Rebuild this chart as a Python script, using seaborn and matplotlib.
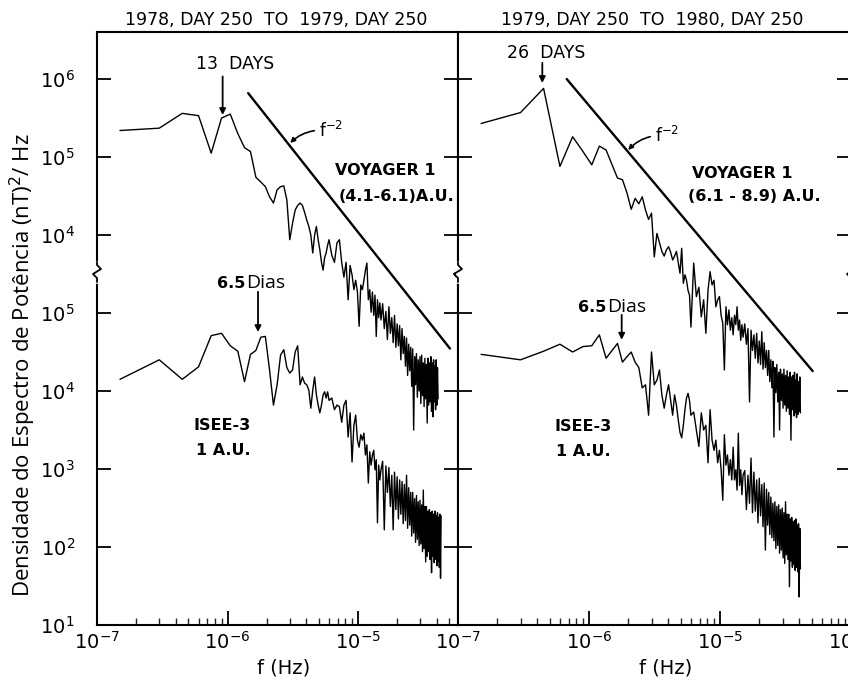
import numpy as np
import pandas as pd
import matplotlib
matplotlib.use("Agg")
import matplotlib.pyplot as plt
import seaborn as sns
from matplotlib.ticker import LogLocator, NullLocator, NullFormatter

# ---------------- data ----------------
# spectral frequency grid, in units of 1e-7 Hz
freq_e7 = [1.5, 3.0, 4.5, 6.0, 7.5, 9.0, 10.5, 12.0, 13.5, 15.0, 16.5, 18.0, 19.5, 21.0, 22.5, 24.0, 25.5, 27.0, 28.5, 30.0,
           31.5, 33.0, 34.5, 36.0, 37.5, 39.0, 40.5, 42.0, 43.5, 45.0, 46.5, 48.0, 49.5, 51.0, 52.5, 54.0, 55.5, 57.0, 58.5, 60.0,
           63, 66, 69, 72, 75, 78, 81, 84, 87, 90, 93, 96, 99, 102, 105, 108, 111, 114, 117, 120,
           123, 126, 129, 132, 135, 138, 141, 144, 147, 150,
           154.5, 159, 163.5, 168, 172.5, 177, 181.5, 186, 190.5, 195, 199.5, 204, 208.5, 213, 217.5, 222,
           226.5, 231, 235.5, 240, 244.5, 249, 253.5, 258, 262.5, 267, 271.5, 276, 280.5, 285, 289.5, 294,
           298.5, 303, 307.5, 312, 316.5, 321, 325.5, 330, 334.5, 339, 343.5, 348, 352.5, 357, 361.5, 366,
           370.5, 375, 379.5, 384, 388.5, 393, 397.5, 402, 406.5, 411, 415.5, 420, 424.5, 429, 433.5]

# log10 of power spectral density, (nT)^2/Hz
voyager_1978_log10 = [5.34, 5.37, 5.56, 5.53, 5.05, 5.50, 5.55, 5.30, 5.12, 5.07, 4.74, 4.68, 4.62, 4.49, 4.41, 4.58, 4.62, 4.63, 4.45, 3.94,
                      4.15, 4.32, 4.38, 4.41, 4.38, 4.29, 4.19, 4.11, 4.00, 3.77, 4.00, 4.11, 3.94, 3.81, 3.65, 3.55, 3.71, 3.77, 3.87, 3.94,
                      3.74, 3.65, 3.90, 3.94, 3.65, 3.46, 3.65, 3.17, 3.61, 3.49, 3.30, 3.42, 3.27, 2.83, 3.36, 3.30, 3.42, 3.55, 3.64, 3.17,
                      3.30, 3.01, 3.27, 2.97, 3.23, 2.70, 3.17, 2.94, 3.13, 2.91,
                      3.12, 2.80, 3.02, 2.66, 3.08, 2.74, 2.94, 2.62, 2.97, 2.56, 2.86, 2.58, 2.84, 2.40, 2.80, 2.48,
                      2.70, 2.32, 2.68, 2.20, 2.60, 2.26, 2.56, 2.06, 2.54, 1.50, 2.44, 2.08, 2.48, 1.92, 2.40, 2.00,
                      2.44, 1.84, 2.46, 1.94, 2.36, 1.80, 2.42, 1.90, 2.34, 1.59, 2.42, 1.82, 2.36, 1.86, 2.44, 1.74,
                      2.36, 1.67, 2.40, 1.86, 2.32, 1.76, 2.40, 1.82, 2.30, 1.90]

isee_1978_log10 = [4.15, 4.40, 4.15, 4.31, 4.71, 4.74, 4.58, 4.51, 4.12, 4.47, 4.52, 4.69, 4.70, 4.27, 3.82, 4.08, 4.46, 4.53, 4.30, 4.23,
                   4.27, 4.50, 4.58, 4.08, 4.18, 4.10, 4.08, 4.01, 3.78, 4.01, 4.18, 3.95, 3.82, 3.72, 3.82, 3.95, 3.99, 3.91, 3.99, 3.88,
                   3.91, 3.76, 3.82, 3.80, 3.60, 3.82, 3.88, 3.41, 3.72, 3.09, 3.56, 3.69, 3.37, 3.28, 3.44, 3.37, 3.46, 3.18, 3.31, 2.82,
                   3.22, 3.05, 3.18, 3.24, 2.99, 3.12, 2.31, 3.05, 2.86, 2.99,
                   3.10, 2.22, 3.04, 2.70, 3.02, 2.52, 2.92, 2.22, 2.96, 2.48, 2.90, 2.36, 2.86, 2.42, 2.84, 2.30,
                   2.80, 2.34, 2.92, 2.24, 2.76, 2.28, 2.70, 2.14, 2.70, 2.18, 2.62, 2.06, 2.66, 2.10, 2.58, 2.02,
                   2.60, 2.04, 2.54, 1.94, 2.73, 1.98, 2.52, 1.81, 2.52, 1.88, 2.46, 1.94, 2.48, 1.84, 2.44, 1.67,
                   2.46, 1.88, 2.42, 1.80, 2.46, 1.84, 2.40, 1.76, 2.44, 1.82, 2.38, 1.74, 2.42, 1.60, 2.40]

voyager_1979_log10 = [5.43, 5.57, 5.88, 4.88, 5.26, 5.07, 4.90, 5.14, 5.09, 4.90, 4.73, 4.71, 4.54, 4.33, 4.47, 4.40, 4.49, 4.32, 4.20, 4.28,
                      3.72, 4.02, 3.90, 3.79, 3.73, 3.81, 3.85, 3.78, 3.68, 3.73, 3.79, 3.65, 3.51, 3.83, 3.38, 3.49, 3.42, 3.29, 3.23, 2.82,
                      3.64, 3.21, 3.33, 2.95, 3.17, 2.74, 3.29, 3.53, 3.36, 3.42, 3.08, 3.17, 3.21, 2.97, 2.87, 2.27, 3.08, 2.85, 3.04, 2.78,
                      2.94, 2.72, 2.97, 2.85, 3.08, 2.78, 2.91, 2.65, 2.85, 2.69,
                      2.86, 2.60, 2.80, 1.86, 2.78, 2.52, 2.72, 2.42, 2.74, 2.36, 2.64, 2.34, 2.76, 2.28, 2.62, 2.30,
                      2.52, 2.20, 2.52, 2.12, 2.40, 2.04, 2.38, 1.41, 2.30, 1.98, 2.34, 1.86, 2.24, 1.50, 2.28, 1.88,
                      2.22, 1.78, 2.28, 1.82, 2.20, 1.74, 2.26, 1.78, 2.18, 1.70, 2.24, 1.37, 2.18, 1.76, 2.20, 1.68,
                      2.24, 1.72, 2.14, 1.66, 2.22, 1.70, 2.12, 1.74, 2.18, 1.72]

isee_1979_log10 = [4.47, 4.40, 4.51, 4.60, 4.50, 4.57, 4.58, 4.72, 4.42, 4.52, 4.61, 4.37, 4.44, 4.50, 4.37, 4.30, 4.04, 4.08, 3.69, 4.50,
                   4.08, 4.14, 4.27, 3.95, 3.78, 3.95, 4.08, 3.88, 3.69, 3.95, 3.82, 3.63, 3.47, 3.40, 3.56, 3.76, 3.91, 3.97, 3.88, 3.69,
                   3.73, 3.50, 3.29, 3.72, 3.50, 3.56, 3.08, 3.76, 3.37, 3.24, 3.37, 3.08, 3.24, 2.99, 2.60, 3.44, 3.05, 3.18, 2.92, 3.12,
                   2.86, 3.28, 2.86, 2.99, 2.73, 3.46, 2.79, 2.99, 2.67, 2.92,
                   2.98, 2.48, 2.92, 2.56, 3.14, 2.44, 2.96, 2.46, 2.86, 2.31, 2.88, 2.40, 2.80, 2.26, 2.82, 1.96,
                   2.74, 2.28, 2.70, 2.16, 2.64, 2.12, 2.56, 2.08, 2.58, 1.98, 2.52, 2.02, 2.54, 1.92, 2.48, 1.96,
                   2.50, 1.86, 2.44, 1.79, 2.58, 1.90, 2.42, 1.84, 2.42, 1.49, 2.36, 1.82, 2.38, 1.74, 2.32, 1.78,
                   2.34, 1.70, 2.36, 1.74, 2.28, 1.68, 2.30, 1.36, 2.24, 1.72]

# f^-2 reference lines (end points, Hz and (nT)^2/Hz)
fm2_1978_f = [1.44e-6, 5.07e-5]
fm2_1978_P = [6.6e5, 3.5e2]
fm2_1979_f = [6.76e-7, 5.1e-5]
fm2_1979_P = [1.0e6, 1.8e2]

panel_titles = ["1978, DAY 250  TO  1979, DAY 250", "1979, DAY 250  TO  1980, DAY 250"]
period_labels = ["13  DAYS", "26  DAYS"]
voyager_ranges = ["(4.1-6.1)A.U.", "(6.1 - 8.9) A.U."]

x_tick_values = [1e-7, 1e-6, 1e-5, 1e-4]
x_tick_labels = [r"$10^{-7}$", r"$10^{-6}$", r"$10^{-5}$", r"$10^{-4}$"]
y_tick_values = [1e1, 1e2, 1e3, 1e4, 1e5, 1e6, 1e7, 1e8]
y_tick_labels = [r"$10^1$", r"$10^2$", r"$10^3$", r"$10^4$", r"$10^5$", r"$10^4$", r"$10^5$", r"$10^6$"]

VOYAGER_SHIFT = 100.0  # broken axis: Voyager section drawn two decades higher

# ---------------- figure ----------------
sns.set_theme(style="white")
plt.rcParams["font.family"] = ["DejaVu Sans"]
plt.rcParams["mathtext.fontset"] = "dejavusans"
plt.rcParams["text.color"] = "black"
plt.rcParams["axes.labelcolor"] = "black"

W, H = 848, 684
fig = plt.figure(figsize=(W / 100, H / 100), dpi=100)
AX_B, AX_T = 625, 32
axL = fig.add_axes([97 / W, (H - AX_B) / H, 361 / W, (AX_B - AX_T) / H])
axR = fig.add_axes([458 / W, (H - AX_B) / H, 393 / W, (AX_B - AX_T) / H])


def make_df(logs, name, shift):
    n = len(logs)
    return pd.DataFrame({"f": np.array(freq_e7[:n]) * 1e-7,
                         "P": (10.0 ** np.array(logs)) * shift,
                         "series": name})


panels = [
    (axL, voyager_1978_log10, isee_1978_log10, fm2_1978_f, fm2_1978_P, 10 ** (-7 + 361 / 130.5), 361),
    (axR, voyager_1979_log10, isee_1979_log10, fm2_1979_f, fm2_1979_P, 1e-4, 393),
]

for i, (ax, vlog, ilog, lf, lp, xmax, wpx) in enumerate(panels):
    ax.set_xscale("log")
    ax.set_yscale("log")
    df = pd.concat([make_df(vlog, "Voyager 1", VOYAGER_SHIFT), make_df(ilog, "ISEE-3", 1.0)])
    sns.lineplot(data=df, x="f", y="P", units="series", estimator=None, sort=False,
                 color="black", linewidth=1.0, ax=ax, legend=False)
    sns.lineplot(x=np.array(lf), y=np.array(lp) * VOYAGER_SHIFT, estimator=None, sort=False,
                 color="black", linewidth=1.7, ax=ax, legend=False)

    ax.set_xticks(x_tick_values, labels=x_tick_labels)
    ax.xaxis.set_minor_locator(LogLocator(base=10, subs=np.arange(2, 10), numticks=50))
    ax.xaxis.set_minor_formatter(NullFormatter())
    ax.set_yticks(y_tick_values, labels=y_tick_labels)
    ax.yaxis.set_minor_locator(NullLocator())
    ax.tick_params(axis="x", which="major", direction="in", length=10, width=1.3,
                   bottom=True, top=False, labelsize=14, pad=4, colors="black")
    ax.tick_params(axis="x", which="minor", direction="in", length=5, width=1.0,
                   bottom=True, top=False)
    ax.tick_params(axis="y", which="major", direction="in", length=10, width=1.3,
                   left=True, right=True, labelsize=14, pad=16, colors="black")
    if i == 1:
        ax.tick_params(axis="y", labelleft=False)
    ax.set_xlim(1e-7, xmax)
    ax.set_ylim(10, 10 ** 8.603)
    for s in ax.spines.values():
        s.set_color("black")
        s.set_linewidth(1.5)
    ax.set_ylabel("")
    ax.set_xlabel("f (Hz)", fontsize=14, color="black")
    ax.xaxis.set_label_coords(0.518 if i == 0 else 0.529, -0.057)
    ax.xaxis.label.set_va("top")

    # axis break marks
    yc = (AX_B - 272) / (AX_B - AX_T)
    h = AX_B - AX_T
    for xf in (0.0, 1.0):
        ax.plot([xf, xf], [yc - 9 / h, yc + 9 / h], color="white", lw=3.5,
                transform=ax.transAxes, clip_on=False, zorder=5)
        pts = [(0, -10), (0, -6), (-4, -2), (4, 3), (0, 7), (0, 10)]
        ax.plot([xf + dx / wpx for dx, dy in pts], [yc + dy / h for dx, dy in pts],
                color="black", lw=1.3, transform=ax.transAxes, clip_on=False, zorder=6)

    # title
    ax.text(0.496 if i == 0 else 0.494, 1.020, panel_titles[i], transform=ax.transAxes,
            ha="center", va="center", fontsize=12.5, color="black")

arrow_kw = dict(arrowstyle="-|>", color="black", lw=1.3, mutation_scale=9, shrinkA=0, shrinkB=0)

# ---- left panel annotations ----
axL.text(0.382, 0.946, period_labels[0], transform=axL.transAxes, ha="center", va="center", fontsize=12.5)
axL.annotate("", xy=(0.348, 0.860), xytext=(0.348, 0.925), xycoords="axes fraction", arrowprops=arrow_kw)
axL.text(0.798, 0.767, "VOYAGER 1", transform=axL.transAxes, ha="center", va="center", fontsize=11.5, fontweight="bold")
axL.text(0.831, 0.722, voyager_ranges[0], transform=axL.transAxes, ha="center", va="center", fontsize=11.5, fontweight="bold")
axL.annotate("f$^{-2}$", xy=(0.535, 0.813), xytext=(0.615, 0.833), xycoords="axes fraction",
             ha="left", va="center", fontsize=12,
             arrowprops=dict(arrowstyle="-|>", color="black", lw=1.2, mutation_scale=7,
                             connectionstyle="arc3,rad=0.25", shrinkA=1, shrinkB=0))
axL.text(0.410, 0.568, "6.5", transform=axL.transAxes, ha="right", va="baseline", fontsize=11.5, fontweight="bold")
axL.text(0.413, 0.568, "Dias", transform=axL.transAxes, ha="left", va="baseline", fontsize=14, family=["Open Sans", "DejaVu Sans"])
axL.annotate("", xy=(0.446, 0.494), xytext=(0.446, 0.562), xycoords="axes fraction", arrowprops=arrow_kw)
axL.text(0.346, 0.336, "ISEE-3", transform=axL.transAxes, ha="center", va="center", fontsize=11.5, fontweight="bold")
axL.text(0.349, 0.295, "1 A.U.", transform=axL.transAxes, ha="center", va="center", fontsize=11.5, fontweight="bold")

# ---- right panel annotations ----
axR.text(0.224, 0.965, period_labels[1], transform=axR.transAxes, ha="center", va="center", fontsize=12.5)
axR.annotate("", xy=(0.2145, 0.914), xytext=(0.2145, 0.948), xycoords="axes fraction", arrowprops=arrow_kw)
axR.text(0.723, 0.762, "VOYAGER 1", transform=axR.transAxes, ha="center", va="center", fontsize=11.5, fontweight="bold")
axR.text(0.753, 0.722, voyager_ranges[1], transform=axR.transAxes, ha="center", va="center", fontsize=11.5, fontweight="bold")
axR.annotate("f$^{-2}$", xy=(0.433, 0.801), xytext=(0.501, 0.825), xycoords="axes fraction",
             ha="left", va="center", fontsize=12,
             arrowprops=dict(arrowstyle="-|>", color="black", lw=1.2, mutation_scale=7,
                             connectionstyle="arc3,rad=0.25", shrinkA=1, shrinkB=0))
axR.text(0.377, 0.528, "6.5", transform=axR.transAxes, ha="right", va="baseline", fontsize=11.5, fontweight="bold")
axR.text(0.379, 0.528, "Dias", transform=axR.transAxes, ha="left", va="baseline", fontsize=14, family=["Open Sans", "DejaVu Sans"])
axR.annotate("", xy=(0.4165, 0.481), xytext=(0.4165, 0.523), xycoords="axes fraction", arrowprops=arrow_kw)
axR.text(0.318, 0.334, "ISEE-3", transform=axR.transAxes, ha="center", va="center", fontsize=11.5, fontweight="bold")
axR.text(0.318, 0.292, "1 A.U.", transform=axR.transAxes, ha="center", va="center", fontsize=11.5, fontweight="bold")

# y label
fig.text(23 / W, 1 - 365 / H, "Densidade do Espectro de Potência (nT)$^2$/ Hz", rotation=90,
         ha="center", va="center", fontsize=16, family=["Open Sans", "DejaVu Sans"], color="black")

fig.savefig("out.png", dpi=100)
